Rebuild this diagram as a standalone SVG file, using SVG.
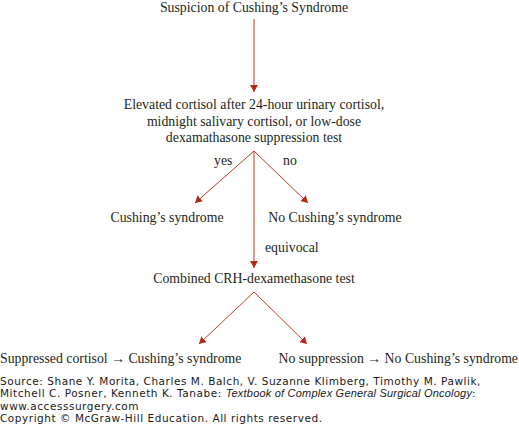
<svg xmlns="http://www.w3.org/2000/svg" width="519" height="426" viewBox="0 0 519 426">
<style>
.t{font-family:"Liberation Serif","Times New Roman",serif;font-size:13.8px;fill:#231f20;text-anchor:middle}
.l{font-family:"Liberation Serif","Times New Roman",serif;font-size:13.8px;fill:#231f20}
.f{font-family:"DejaVu Sans",Verdana,sans-serif;font-size:10.5px;letter-spacing:0.54px;fill:#1a1a1a}
.i{font-family:"Liberation Sans",Arial,sans-serif;font-style:italic;font-size:11px;letter-spacing:0.2px}
.c{stroke:#c03a22;stroke-width:1;fill:none}
</style>
<defs>
<marker id="ah" viewBox="0 0 7 8" refX="7" refY="4" markerWidth="7" markerHeight="8" markerUnits="userSpaceOnUse" orient="auto">
<path d="M0,0 L7,4 L0,8 Z" fill="#b52a14"/>
</marker>
</defs>
<rect width="519" height="426" fill="#ffffff"/>
<g id="connectors">
<line class="c" x1="254" y1="19" x2="254" y2="92" marker-end="url(#ah)"/>
<line class="c" x1="254" y1="151" x2="195" y2="203" marker-end="url(#ah)"/>
<line class="c" x1="254" y1="151" x2="308" y2="203" marker-end="url(#ah)"/>
<line class="c" x1="254" y1="151" x2="254" y2="268" marker-end="url(#ah)"/>
<line class="c" x1="254" y1="292" x2="199" y2="344" marker-end="url(#ah)"/>
<line class="c" x1="254" y1="292" x2="307" y2="344" marker-end="url(#ah)"/>
<text class="l" x="214" y="165">yes</text>
<text class="l" x="283" y="165">no</text>
<text class="l" x="265" y="251.5">equivocal</text>
</g>
<g id="n-suspicion"><text class="t" x="254" y="12">Suspicion of Cushing’s Syndrome</text></g>
<g id="n-elevated">
<text class="t" x="254" y="109">Elevated cortisol after 24-hour urinary cortisol,</text>
<text class="t" x="254" y="125.5">midnight salivary cortisol, or low-dose</text>
<text class="t" x="254" y="141.5">dexamathasone suppression test</text>
</g>
<g id="n-cushing"><text class="t" x="167" y="221.5">Cushing’s syndrome</text></g>
<g id="n-nocushing"><text class="t" x="335" y="221.5">No Cushing’s syndrome</text></g>
<g id="n-combined"><text class="t" x="254" y="282.5">Combined CRH-dexamethasone test</text></g>
<g id="n-suppressed"><text class="l" x="0" y="363">Suppressed cortisol  → Cushing’s syndrome</text></g>
<g id="n-nosuppression"><text class="l" x="518" y="363" text-anchor="end">No suppression → No Cushing’s syndrome</text></g>
<g id="footer">
<text class="f" x="0" y="385">Source: Shane Y. Morita, Charles M. Balch, V. Suzanne Klimberg, Timothy M. Pawlik,</text>
<text class="f" x="0" y="397.3">Mitchell C. Posner, Kenneth K. Tanabe: <tspan class="i">Textbook of Complex General Surgical Oncology</tspan>:</text>
<text class="f" x="0" y="409.6">www.accesssurgery.com</text>
<text class="f" x="0" y="422">Copyright © McGraw-Hill Education. All rights reserved.</text>
</g>
</svg>
